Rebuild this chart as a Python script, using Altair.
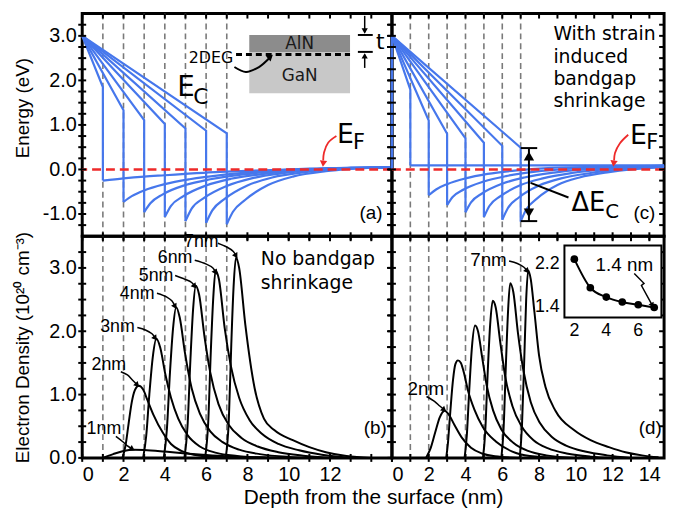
import math
import altair as alt
import pandas as pd

# ---------------------------------------------------------------- data
thickness = [1, 2, 3, 4, 5, 6, 7]          # AlN barrier thickness t (nm)
surface_e = 3.0                             # E_C at the surface (eV)
fermi_level = 0.0

# (a) band edge, no bandgap shrinkage
a_top = [1.85, 1.33, 1.11, 1.02, 0.92, 0.87, 0.81]
a_bottom = [-0.25, -0.73, -0.96, -1.07, -1.16, -1.20, -1.23]
a_tail_x = [
    [2, 3, 4, 5, 6, 7, 8, 9.5, 11, 13, 15],
    [2.4, 3, 4, 5.2, 6.8, 8.5, 10.5, 12.5, 15],
    [3.3, 3.9, 5, 6.2, 7.8, 9.5, 11, 12.5, 15],
    [4.3, 4.9, 6, 7.2, 8.8, 10.5, 12, 15],
    [5.3, 5.9, 7, 8.2, 9.8, 11.5, 13, 15],
    [6.3, 6.9, 8, 9.2, 10.8, 12.5, 15],
    [7.3, 7.9, 9, 10.2, 11.8, 13, 15],
]
a_tail_e = [
    [-0.20, -0.16, -0.13, -0.10, -0.07, -0.05, -0.03, -0.01, 0.02, 0.04, 0.05],
    [-0.60, -0.47, -0.33, -0.22, -0.12, -0.05, 0.0, 0.03, 0.05],
    [-0.76, -0.56, -0.35, -0.22, -0.11, -0.04, 0.0, 0.03, 0.05],
    [-0.82, -0.60, -0.36, -0.21, -0.10, -0.02, 0.02, 0.05],
    [-0.88, -0.64, -0.37, -0.20, -0.08, 0.0, 0.03, 0.05],
    [-0.92, -0.66, -0.36, -0.18, -0.06, 0.01, 0.05],
    [-0.95, -0.68, -0.35, -0.16, -0.04, 0.01, 0.05],
]

# (c) band edge, with strain induced bandgap shrinkage
c_top = [1.79, 1.10, 0.80, 0.70, 0.60, 0.53, 0.49]
c_bottom = [0.09, -0.58, -0.80, -0.96, -1.07, -1.13, -1.17]
c_tail_x = [
    [14.8],
    [2.4, 3, 4, 5.2, 6.8, 8.5, 11, 14.8],
    [3.3, 3.9, 5, 6.2, 7.8, 9.5, 11.5, 14.8],
    [4.3, 4.9, 6, 7.2, 8.8, 10.5, 12.5, 14.8],
    [5.3, 5.9, 7, 8.2, 9.8, 11.5, 13, 14.8],
    [6.3, 6.9, 8, 9.2, 10.8, 12.5, 14, 14.8],
    [7.3, 7.9, 9, 10.2, 11.8, 13, 14.8],
]
c_tail_e = [
    [0.09],
    [-0.45, -0.33, -0.20, -0.10, -0.02, 0.03, 0.06, 0.08],
    [-0.62, -0.45, -0.27, -0.15, -0.05, 0.01, 0.05, 0.08],
    [-0.74, -0.54, -0.32, -0.18, -0.07, 0.0, 0.05, 0.08],
    [-0.82, -0.60, -0.35, -0.20, -0.08, 0.0, 0.04, 0.07],
    [-0.87, -0.63, -0.36, -0.20, -0.08, 0.0, 0.04, 0.06],
    [-0.90, -0.65, -0.35, -0.18, -0.06, 0.0, 0.05],
]
c_surface_x = [0, 0]
c_surface_e = [0.0, 3.0]

# (b) electron density, no bandgap shrinkage (1e20 cm^-3)
b_labels = ["1nm", "2nm", "3nm", "4nm", "5nm", "6nm", "7nm"]
b_x = [
    [1.0, 1.5, 2.0, 2.5, 3.0, 4.0, 5.0, 6.0, 7.0, 8.5, 10.0],
    [1.95, 2.1, 2.25, 2.4, 2.55, 2.74, 2.95, 3.15, 3.45, 3.9, 4.3, 4.8, 5.4, 6.5, 8.0],
    [2.95, 3.1, 3.25, 3.42, 3.59, 3.78, 4.02, 4.3, 4.65, 5.1, 5.7, 6.5, 7.5, 9.0],
    [3.95, 4.1, 4.25, 4.4, 4.55, 4.72, 4.98, 5.3, 5.7, 6.2, 6.8, 7.6, 8.6, 10.0, 11.0],
    [4.95, 5.1, 5.24, 5.37, 5.5, 5.66, 5.92, 6.2, 6.6, 7.1, 7.7, 8.5, 9.5, 10.7, 12.0],
    [5.95, 6.1, 6.23, 6.35, 6.46, 6.62, 6.9, 7.2, 7.6, 8.1, 8.7, 9.5, 10.5, 11.6, 13.0],
    [6.95, 7.1, 7.22, 7.33, 7.45, 7.6, 7.9, 8.35, 8.8, 9.3, 10.2, 11.0, 11.8, 12.8, 14.0],
]
b_n = [
    [0.0, 0.06, 0.11, 0.13, 0.125, 0.10, 0.07, 0.045, 0.025, 0.01, 0.0],
    [0.0, 0.2, 0.55, 0.88, 1.07, 1.14, 1.08, 0.92, 0.68, 0.40, 0.22, 0.11, 0.05, 0.015, 0.0],
    [0.0, 0.35, 1.0, 1.6, 1.88, 1.74, 1.33, 0.95, 0.62, 0.36, 0.18, 0.08, 0.03, 0.0],
    [0.0, 0.45, 1.35, 2.05, 2.38, 2.22, 1.65, 1.10, 0.70, 0.42, 0.25, 0.13, 0.06, 0.015, 0.0],
    [0.0, 0.5, 1.55, 2.35, 2.72, 2.58, 1.92, 1.35, 0.85, 0.52, 0.32, 0.18, 0.09, 0.035, 0.0],
    [0.0, 0.55, 1.7, 2.55, 2.96, 2.82, 2.05, 1.45, 0.95, 0.60, 0.38, 0.22, 0.12, 0.05, 0.0],
    [0.0, 0.6, 1.8, 2.7, 3.17, 3.0, 2.1, 1.1, 0.62, 0.44, 0.28, 0.17, 0.09, 0.03, 0.0],
]
b_label_x = [1.05, 1.29, 1.71, 2.66, 3.58, 4.50, 5.77]
b_label_n = [0.46, 1.46, 2.07, 2.59, 2.87, 3.15, 3.41]
b_arrow_x = [[1.63, 1.95, 2.19, 2.43], [1.87, 2.19, 2.43, 2.67], [2.67, 3.06, 3.38, 3.54],
             [3.62, 4.10, 4.34, 4.50], [4.50, 4.98, 5.30, 5.45], [5.45, 6.01, 6.33, 6.46],
             [6.57, 7.0, 7.32, 7.45]]
b_arrow_n = [[0.34, 0.26, 0.19, 0.14], [1.36, 1.31, 1.23, 1.15], [2.06, 2.02, 1.96, 1.89],
             [2.60, 2.54, 2.48, 2.39], [2.88, 2.82, 2.77, 2.71], [3.12, 3.06, 3.00, 2.93],
             [3.39, 3.33, 3.26, 3.19]]

# (d) electron density, with bandgap shrinkage
d_labels = ["2nm", "3nm", "4nm", "5nm", "6nm", "7nm"]
d_x = [
    [1.85, 2.1, 2.35, 2.6, 2.87, 3.1, 3.4, 3.8, 4.3, 4.9, 5.6, 7.0],
    [2.95, 3.05, 3.14, 3.32, 3.45, 3.59, 3.75, 3.9, 4.13, 4.49, 4.94, 5.65, 6.55, 7.5, 9.0],
    [3.95, 4.07, 4.2, 4.35, 4.52, 4.68, 4.9, 5.15, 5.5, 5.95, 6.6, 7.4, 8.4, 10.0],
    [4.95, 5.07, 5.2, 5.34, 5.48, 5.64, 5.88, 6.15, 6.55, 7.05, 7.7, 8.5, 9.5, 10.8, 12.0],
    [5.95, 6.07, 6.2, 6.32, 6.43, 6.6, 6.85, 7.15, 7.55, 8.05, 8.7, 9.5, 10.5, 11.7, 13.0],
    [6.95, 7.07, 7.2, 7.3, 7.41, 7.55, 7.75, 8.0, 8.35, 8.9, 9.9, 10.8, 11.8, 12.7, 13.6, 14.5],
]
d_n = [
    [0.0, 0.15, 0.40, 0.64, 0.745, 0.68, 0.52, 0.32, 0.16, 0.07, 0.025, 0.0],
    [0.0, 0.25, 0.6, 1.23, 1.48, 1.54, 1.5, 1.36, 1.07, 0.76, 0.49, 0.26, 0.10, 0.03, 0.0],
    [0.0, 0.35, 1.05, 1.75, 2.09, 2.0, 1.6, 1.15, 0.75, 0.45, 0.24, 0.11, 0.04, 0.0],
    [0.0, 0.4, 1.3, 2.1, 2.48, 2.38, 1.85, 1.3, 0.82, 0.5, 0.28, 0.15, 0.07, 0.02, 0.0],
    [0.0, 0.45, 1.5, 2.35, 2.76, 2.62, 1.98, 1.38, 0.88, 0.55, 0.33, 0.19, 0.10, 0.04, 0.0],
    [0.0, 0.5, 1.6, 2.5, 2.96, 2.82, 2.3, 1.62, 1.12, 0.74, 0.44, 0.28, 0.17, 0.09, 0.04, 0.01],
]
d_label_text = ["2nm", "7nm"]
d_label_x = [1.84, 5.25]
d_label_n = [1.09, 3.13]
d_arrow_x = [[1.88, 2.33, 2.6, 2.84], [6.37, 6.82, 7.18, 7.36]]
d_arrow_n = [[0.97, 0.89, 0.82, 0.76], [3.11, 3.07, 3.01, 2.95]]

# inset of (d): 2DEG width vs barrier thickness
inset_t = [2, 3, 4, 5, 6, 7]
inset_w = [2.28, 1.76, 1.59, 1.50, 1.45, 1.40]
inset_x_domain = [1.38, 7.45]
inset_y_domain = [1.22, 2.53]

# ---------------------------------------------------------------- style
W_L, W_R, H_T, H_B = 313, 275, 225, 224
X_MAX_L, X_MAX_R = 15.0, 14.8
BLUE = "#4677EC"
RED = "#EE2A2A"
GRAY = "#7A7A7A"
AX_FONT = "Liberation Sans"
TX_FONT = "DejaVu Sans"

sx_l = alt.Scale(domain=[0, X_MAX_L], nice=False, zero=False)
sx_r = alt.Scale(domain=[0, X_MAX_R], nice=False, zero=False)
sy_e = alt.Scale(domain=[-1.5, 3.5], nice=False, zero=False)
sy_n = alt.Scale(domain=[0, 3.5], nice=False, zero=False)
sx_in = alt.Scale(domain=inset_x_domain, range=[174.3, 272.3], nice=False, zero=False)
sy_in = alt.Scale(domain=inset_y_domain, range=[82, 9.3], nice=False, zero=False)

neg_fmt = "datum.value < 0 ? '-' + format(-datum.value, '.1f') : format(datum.value, '.1f')"
ax_a_y = alt.Axis(values=[-1, 0, 1, 2, 3], labelExpr=neg_fmt, title="Energy (eV)",
                  titleX=-60, titleY=95, titleBaseline="middle", labelPadding=6)
ax_b_y = alt.Axis(values=[0, 1, 2, 3], labelExpr=neg_fmt, title="Electron Density (10²⁰ cm⁻³)",
                  titleX=-60, titleBaseline="middle", labelPadding=6)
ax_b_x = alt.Axis(values=[0, 2, 4, 6, 8, 10, 12], title="Depth from the surface (nm)",
                  titleX=(W_L + W_R) / 2, titleY=40, titleBaseline="middle", titleFontSize=21,
                  labelPadding=7)
ax_d_x = alt.Axis(values=[0, 2, 4, 6, 8, 10, 12, 14], title=None, labelPadding=7)


def P(sx, sy, ax, ay):
    return dict(x=alt.X("x:Q", scale=sx, axis=ax), y=alt.Y("y:Q", scale=sy, axis=ay))


Pa = P(sx_l, sy_e, None, ax_a_y)
Pc = P(sx_r, sy_e, None, None)
Pb = P(sx_l, sy_n, ax_b_x, ax_b_y)
Pd = P(sx_r, sy_n, ax_d_x, None)
Pin = P(sx_in, sy_in, None, None)

KX_L, KX_R = W_L / X_MAX_L, W_R / X_MAX_R
KY_E, KY_N = H_T / 5.0, H_B / 3.5
KX_IN = 98.0 / (inset_x_domain[1] - inset_x_domain[0])
KY_IN = 72.7 / (inset_y_domain[1] - inset_y_domain[0])


def series_df(keys, xs_list, ys_list):
    rows = []
    for k, xs, ys in zip(keys, xs_list, ys_list):
        for i, (x, y) in enumerate(zip(xs, ys)):
            rows.append(dict(k=str(k), i=i, x=x, y=y))
    return pd.DataFrame(rows)


def line(df, p, color, width, interp="linear", dash=None):
    kw = dict(color=color, strokeWidth=width, interpolate=interp)
    if dash:
        kw["strokeDash"] = dash
    return alt.Chart(df).mark_line(**kw).encode(**p, detail="k:N", order="i:Q")


def seg(xs, ys, p, color="black", width=2, interp="linear", dash=None):
    return line(series_df(["s"], [xs], [ys]), p, color, width, interp, dash)


def text(xs, ys, texts, p, size, font, align="center", baseline="middle", color="black"):
    df = pd.DataFrame(dict(x=xs, y=ys, t=texts))
    return alt.Chart(df).mark_text(fontSize=size, font=font, align=align, baseline=baseline,
                                   color=color).encode(**p, text="t:N")


def angle_of(xs, ys, kx, ky):
    dx = (xs[-1] - xs[-2]) * kx
    dy = (ys[-1] - ys[-2]) * ky
    return math.degrees(math.atan2(dx, dy)) % 360


def heads(xs, ys, angles, p, size, color="black"):
    df = pd.DataFrame(dict(x=xs, y=ys, a=angles))
    return alt.Chart(df).mark_point(shape="triangle-up", filled=True, size=size, color=color,
                                    opacity=1, strokeWidth=0).encode(
        **p, angle=alt.Angle("a:Q", scale=None))


def vlines(p):
    return alt.Chart(pd.DataFrame({"x": thickness})).mark_rule(
        color=GRAY, strokeDash=[6, 4], strokeWidth=1.6).encode(x=p["x"])


def ef_line(p):
    return alt.Chart(pd.DataFrame({"y": [fermi_level]})).mark_rule(
        color=RED, strokeDash=[9, 5], strokeWidth=2.5).encode(y=p["y"])


def bands(p, top, bottom, tail_x, tail_e):
    wx = [[0, t, t] for t in thickness]
    we = [[surface_e, tp, bt] for tp, bt in zip(top, bottom)]
    tx = [[t] + xs for t, xs in zip(thickness, tail_x)]
    te = [[bt] + es for bt, es in zip(bottom, tail_e)]
    return [line(series_df(thickness, wx, we), p, BLUE, 2.2, "linear"),
            line(series_df(thickness, tx, te), p, BLUE, 2.2, "monotone")]


def ticks(p, xvals, yvals, W, H):
    r = dict(color="black", strokeWidth=2)
    dfx = pd.DataFrame({"x": xvals})
    dfy = pd.DataFrame({"y": yvals})
    return [
        alt.Chart(dfx).mark_rule(**r).encode(x=p["x"], y=alt.value(H - 4), y2=alt.value(H + 4)),
        alt.Chart(dfx).mark_rule(**r).encode(x=p["x"], y=alt.value(0), y2=alt.value(5)),
        alt.Chart(dfy).mark_rule(**r).encode(y=p["y"], x=alt.value(-4), x2=alt.value(4)),
        alt.Chart(dfy).mark_rule(**r).encode(y=p["y"], x=alt.value(W - 5), x2=alt.value(W)),
    ]


x_ticks_l = list(range(0, 16))
x_ticks_r = list(range(0, 15))
y_ticks_e = [v / 4 for v in range(-5, 14)]
y_ticks_n = [v / 4 for v in range(0, 14)]

# ---------------------------------------------------------------- panel (a)
ef_arrow_a_x, ef_arrow_a_e = [12.31, 11.91, 11.71, 11.67], [0.75, 0.60, 0.38, 0.20]
deg_arrow_x, deg_arrow_e = [7.37, 7.93, 8.56, 9.1], [2.30, 2.19, 2.30, 2.52]
layers_a = [vlines(Pa)] + bands(Pa, a_top, a_bottom, a_tail_x, a_tail_e) + [ef_line(Pa)]
layers_a += [
    alt.Chart(pd.DataFrame(dict(x=[8.09, 8.09], x2=[12.97, 12.97], y=[3.02, 2.64], y2=[2.64, 1.71],
                                c=["AlN", "GaN"]))).mark_rect().encode(
        x=Pa["x"], x2="x2:Q", y=Pa["y"], y2="y2:Q",
        color=alt.Color("c:N", scale=alt.Scale(domain=["AlN", "GaN"], range=["#8C8C8C", "#C8C8C8"]),
                        legend=None)),
    seg([7.45, 12.97], [2.58, 2.58], Pa, "black", 3, dash=[6, 4]),
    text([10.53, 10.53], [2.82, 2.10], ["AlN", "GaN"], Pa, 17, TX_FONT, color="#1a1a1a"),
    text([6.24], [2.51], ["2DEG"], Pa, 16, TX_FONT),
    seg(deg_arrow_x, deg_arrow_e, Pa, "black", 2, "catmull-rom"),
    heads([9.12], [2.53], [angle_of(deg_arrow_x, deg_arrow_e, KX_L, KY_E)], Pa, 50),
    seg([13.68, 13.68], [3.45, 3.08], Pa, "black", 1.5),
    seg([13.68, 13.68], [2.28, 2.58], Pa, "black", 1.5),
    seg([13.35, 14.07], [3.02, 3.02], Pa, "black", 2),
    seg([13.35, 14.07], [2.64, 2.64], Pa, "black", 2),
    heads([13.68, 13.68], [3.11, 2.55], [180, 0], Pa, 40),
    text([14.43], [2.86], ["t"], Pa, 22, TX_FONT),
    text([5.02], [1.83], ["E"], Pa, 28, TX_FONT),
    text([5.74], [1.63], ["C"], Pa, 22, TX_FONT),
    text([12.75], [0.78], ["E"], Pa, 27, TX_FONT),
    text([13.40], [0.60], ["F"], Pa, 21, TX_FONT),
    seg(ef_arrow_a_x, ef_arrow_a_e, Pa, RED, 1.8, "catmull-rom"),
    heads([11.67], [0.13], [angle_of(ef_arrow_a_x, ef_arrow_a_e, KX_L, KY_E)], Pa, 55, RED),
    text([13.99], [-0.99], ["(a)"], Pa, 19, AX_FONT),
]
layers_a += ticks(Pa, x_ticks_l, y_ticks_e, W_L, H_T)
panel_a = alt.layer(*layers_a).properties(width=W_L, height=H_T)

# ---------------------------------------------------------------- panel (c)
ef_arrow_c_x, ef_arrow_c_e = [12.85, 12.40, 12.13, 12.08], [0.78, 0.59, 0.37, 0.20]
layers_c = [vlines(Pc)] + bands(Pc, c_top, c_bottom, c_tail_x, c_tail_e)
layers_c += [seg(c_surface_x, c_surface_e, Pc, BLUE, 2.5), ef_line(Pc)]
layers_c += [
    text([8.78] * 4, [2.90, 2.39, 1.89, 1.40], ["With strain", "induced", "bandgap", "shrinkage"],
         Pc, 19, TX_FONT, align="left", baseline="alphabetic"),
    text([13.41], [0.76], ["E"], Pc, 27, TX_FONT),
    text([14.15], [0.60], ["F"], Pc, 21, TX_FONT),
    seg(ef_arrow_c_x, ef_arrow_c_e, Pc, RED, 1.8, "catmull-rom"),
    heads([12.06], [0.13], [angle_of(ef_arrow_c_x, ef_arrow_c_e, KX_R, KY_E)], Pc, 55, RED),
    seg([7.45, 7.45], [0.48, -1.16], Pc, "black", 2),
    seg([7.0, 7.9], [0.48, 0.48], Pc, "black", 2),
    seg([7.0, 7.9], [-1.16, -1.16], Pc, "black", 2),
    heads([7.45, 7.45], [0.30, -0.98], [0, 180], Pc, 110),
    seg([7.54, 9.60], [-0.30, -0.63], Pc, "black", 2),
    text([10.68], [-0.76], ["ΔE"], Pc, 26, TX_FONT),
    text([11.98], [-0.96], ["C"], Pc, 20, TX_FONT),
    text([13.73], [-0.99], ["(c)"], Pc, 19, AX_FONT),
]
layers_c += ticks(Pc, x_ticks_r, y_ticks_e, W_R, H_T)
panel_c = alt.layer(*layers_c).properties(width=W_R, height=H_T)

# ---------------------------------------------------------------- panel (b)
layers_b = [vlines(Pb), line(series_df(b_labels, b_x, b_n), Pb, "black", 2, "monotone")]
layers_b += [
    line(series_df(b_labels, b_arrow_x, b_arrow_n), Pb, "black", 1.5, "catmull-rom"),
    heads([xs[-1] for xs in b_arrow_x], [ns[-1] for ns in b_arrow_n],
          [angle_of(xs, ns, KX_L, KY_N) for xs, ns in zip(b_arrow_x, b_arrow_n)], Pb, 40),
    text(b_label_x, b_label_n, b_labels, Pb, 18, AX_FONT),
    text([8.65, 8.65], [3.04, 2.67], ["No bandgap", "shrinkage"], Pb, 19, TX_FONT,
         align="left", baseline="alphabetic"),
    text([14.19], [0.47], ["(b)"], Pb, 19, AX_FONT),
]
layers_b += ticks(Pb, x_ticks_l, y_ticks_n, W_L, H_B)
panel_b = alt.layer(*layers_b).properties(width=W_L, height=H_B)

# ---------------------------------------------------------------- panel (d)
zig_x, zig_y = [5.75, 6.36, 6.20, 6.88], [2.02, 1.84, 1.80, 1.44]
layers_d = [vlines(Pd), line(series_df(d_labels, d_x, d_n), Pd, "black", 2, "monotone")]
layers_d += [
    line(series_df(d_label_text, d_arrow_x, d_arrow_n), Pd, "black", 1.5, "catmull-rom"),
    heads([xs[-1] for xs in d_arrow_x], [ns[-1] for ns in d_arrow_n],
          [angle_of(xs, ns, KX_R, KY_N) for xs, ns in zip(d_arrow_x, d_arrow_n)], Pd, 40),
    text(d_label_x, d_label_n, d_label_text, Pd, 19, AX_FONT),
    text([14.05], [0.47], ["(d)"], Pd, 19, AX_FONT),
]
layers_d += ticks(Pd, x_ticks_r, y_ticks_n, W_R, H_B)
main_d = alt.layer(*layers_d)

inset_layers = [
    alt.Chart(pd.DataFrame(dict(x=[inset_x_domain[0]], x2=[inset_x_domain[1]],
                                y=[inset_y_domain[0]], y2=[inset_y_domain[1]]))).mark_rect(
        fill="white", stroke="black", strokeWidth=2).encode(x=Pin["x"], x2="x2:Q", y=Pin["y"], y2="y2:Q"),
    seg(inset_t, inset_w, Pin, "black", 2, "monotone"),
    alt.Chart(pd.DataFrame(dict(x=inset_t, y=inset_w))).mark_circle(size=60, color="black", opacity=1)
    .encode(**Pin),
    text([2, 4, 6], [0.97] * 3, ["2", "4", "6"], Pin, 18, AX_FONT),
    text([1.08, 1.08], [2.2, 1.4], ["2.2", "1.4"], Pin, 18, AX_FONT, align="right"),
    text([5.13], [2.18], ["1.4 nm"], Pin, 19, AX_FONT),
    seg(zig_x, zig_y, Pin, "black", 1.5),
    heads([zig_x[-1]], [zig_y[-1]], [angle_of(zig_x, zig_y, KX_IN, KY_IN)], Pin, 35),
]
inset = alt.layer(*inset_layers)
panel_d = alt.layer(main_d, inset).resolve_scale(x="independent", y="independent").properties(
    width=W_R, height=H_B)

# ---------------------------------------------------------------- assemble
chart = alt.concat(
    panel_a, panel_c, panel_b, panel_d, columns=2, spacing=0, bounds="flush", align="each",
    padding={"left": 4, "top": 0, "right": 2, "bottom": 0},
    background="white",
).configure_view(stroke="black", strokeWidth=3).configure_axis(
    labelFont=AX_FONT, labelFontSize=20, labelColor="black", titleFont=AX_FONT, titleFontSize=19,
    titleFontWeight="normal", titleColor="black", grid=False, ticks=False, domain=False,
)

chart.save("out.html", embed_options={"renderer": "svg", "actions": False})
